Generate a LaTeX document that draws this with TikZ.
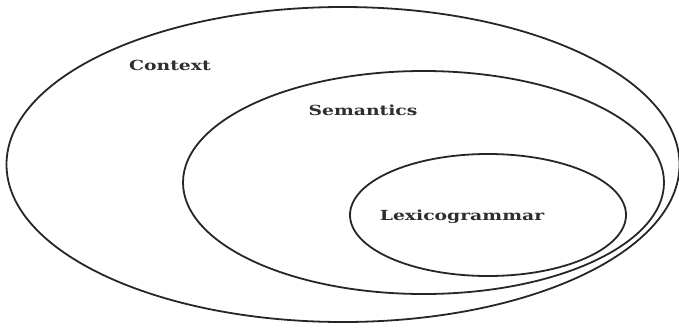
\documentclass[tikz,border=0pt]{standalone}
\usepackage{fontspec}
\newfontfamily\labelfont{DejaVu Serif Bold}[FakeStretch=1.35]
\begin{document}
\begin{tikzpicture}[x=1pt,y=-1pt,
  ring/.style={draw=black!85,line width=1.8pt},
  lbl/.style={anchor=base,inner sep=0pt,text=black!82,font=\labelfont\fontsize{13.9}{16}\selectfont}]
  \useasboundingbox (0,0) rectangle (679,327);
  % nested levels
  \draw[ring] (343,164.5) ellipse [x radius=336.5, y radius=157.5];
  \draw[ring] (423.5,182.5) ellipse [x radius=240.5, y radius=111.5];
  \draw[ring] (488,215) ellipse [x radius=138, y radius=61];
  % labels
  \node[lbl] (context) at (170,70) {Context};
  \node[lbl] (semantics) at (363,115) {Semantics};
  \node[lbl] (lexico) at (462,220) {Lexicogrammar};
\end{tikzpicture}
\end{document}
